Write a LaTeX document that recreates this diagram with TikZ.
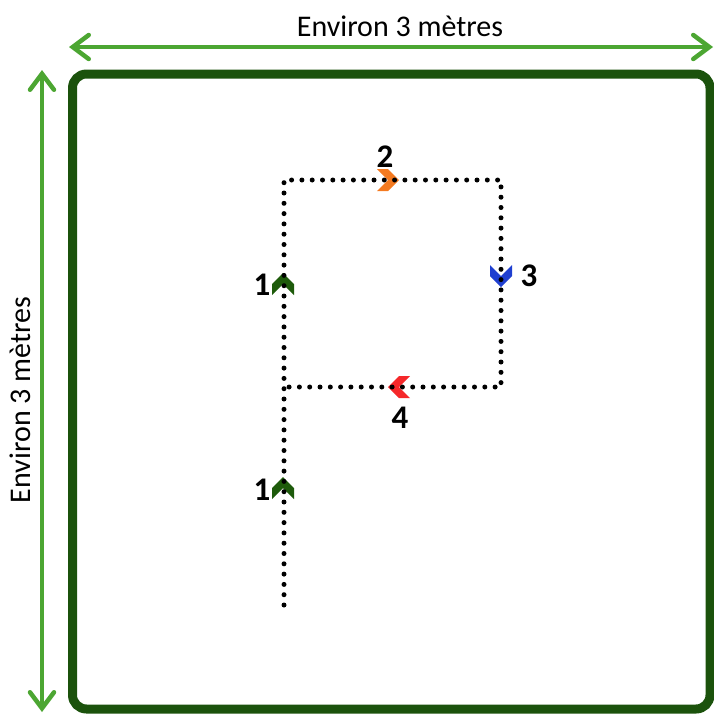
\documentclass[tikz,border=0pt]{standalone}
\usepackage{fontspec}
\setmainfont{Carlito}
\usetikzlibrary{arrows.meta}

\definecolor{framegreen}{HTML}{1B520C}
\definecolor{arrowgreen}{HTML}{4CA632}
\definecolor{chevgreen}{HTML}{1E5B0B}
\definecolor{chevorange}{HTML}{F47A20}
\definecolor{chevblue}{HTML}{1F3FD0}
\definecolor{chevred}{HTML}{F5282A}

\tikzset{
  measure/.style={arrowgreen, line width=4.5pt, line cap=round,
    {Straight Barb[length=16pt,width=24pt,line cap=round]}-{Straight Barb[length=16pt,width=24pt,line cap=round]}},
  trail/.style={line width=5pt, line cap=round, dash pattern=on 0pt off 10.3pt},
  num/.style={font=\fontsize{33}{33}\selectfont\bfseries, inner sep=0pt},
  caption/.style={font=\fontsize{30}{30}\selectfont, inner sep=0pt},
  chevron/.pic={\fill[pic actions] (-11,-11) -- (0,-11) -- (11,0) -- (0,11) -- (-11,11) -- (0,0) -- cycle;}
}

\begin{document}
\begin{tikzpicture}[x=1pt,y=-1pt]
	\useasboundingbox (0,0) rectangle (714,713);
	% measures
	\coordinate (hl) at (69,47);
	\coordinate (hr) at (713,47);
	\coordinate (vt) at (42,70);
	\coordinate (vb) at (42,712);
	\draw[measure] (hl) -- (hr);
	\draw[measure] (vt) -- (vb);
	\node[caption] (toplabel) at (400,26) {Environ 3 mètres};
	\node[caption, rotate=90] (sidelabel) at (20,400) {Environ 3 mètres};
	% room
	\draw[framegreen, line width=9pt, rounded corners=14pt] (72.5,74) rectangle (710,709);
	% chevrons
	\pic[fill=chevgreen, rotate=90] at (283,488) {chevron};
	\pic[fill=chevgreen, rotate=90] at (283,284) {chevron};
	\pic[fill=chevorange] at (388,180) {chevron};
	\pic[fill=chevblue, rotate=-90] at (501,276) {chevron};
	\pic[fill=chevred, rotate=180] at (399,387) {chevron};
	% path
	\coordinate (start) at (284,605);
	\coordinate (tl) at (284,180);
	\coordinate (tr) at (501,180);
	\coordinate (br) at (501,387);
	\coordinate (bl) at (288,387);
	\draw[trail] (start) -- (tl) -- (tr) -- (br) -- (bl);
	% steps
	\node[num] (one) at (262,490) {1};
	\node[num] (oneb) at (262,285) {1};
	\node[num] (two) at (385,157) {2};
	\node[num] (three) at (529,276) {3};
	\node[num] (four) at (400,418) {4};
\end{tikzpicture}
\end{document}
